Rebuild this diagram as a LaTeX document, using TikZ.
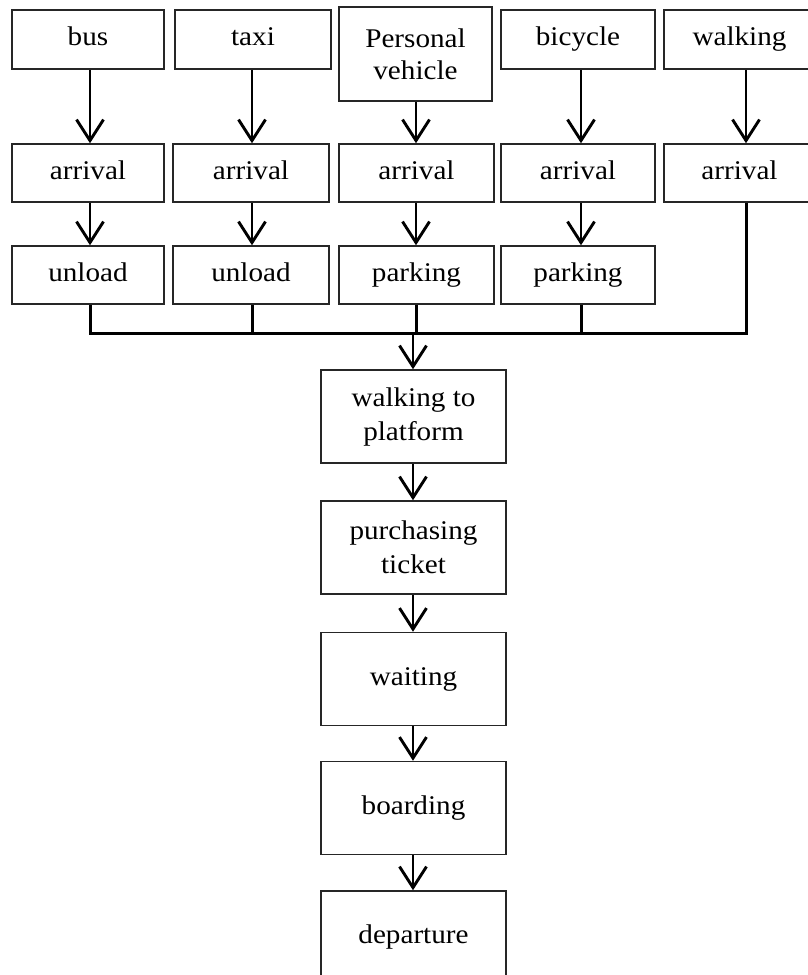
\documentclass[tikz,border=0pt]{standalone}
\usepackage{fontspec}
\setmainfont{Liberation Serif}[FakeStretch=1.08]
\usetikzlibrary{arrows.meta}
\begin{document}
\begin{tikzpicture}[x=1pt,y=-1pt,
  box/.style={draw=black!85, line width=1.5pt, rectangle, inner sep=0pt,
    align=center, font=\fontsize{27}{34}\selectfont},
  oneline/.style={text height=18pt, text depth=6pt},
  topbox/.style={box, oneline, minimum height=59pt},
  rowbox/.style={box, oneline, minimum height=58pt},
  midbox/.style={box, minimum width=185pt, minimum height=93pt},
  arr/.style={line width=2.9pt, -{Straight Barb[length=21pt,width=27pt,line width=2.9pt]}},
  link/.style={line width=3pt}]
\useasboundingbox (0,0) rectangle (808,975);

% column axes for the connectors
\coordinate (c1) at (90,0);
\coordinate (c2) at (252,0);
\coordinate (c3) at (416,0);
\coordinate (c4) at (581,0);
\coordinate (c5) at (746,0);
\coordinate (c6) at (413,0);

% transport modes
\node[topbox, minimum width=152pt] (bus)  at (88,39.5)   {bus};
\node[topbox, minimum width=156pt] (taxi) at (253,39.5)  {taxi};
\node[box, minimum width=153pt, minimum height=94pt,
      font=\fontsize{27}{32}\selectfont] (pv) at (415.5,54) {Personal\\vehicle};
\node[topbox, minimum width=154pt] (bike) at (578,39.5)  {bicycle};
\node[topbox, minimum width=151pt] (walk) at (739.5,39.5) {walking};

% arrival
\node[rowbox, minimum width=152pt] (a1) at (88,173)    {arrival};
\node[rowbox, minimum width=156pt] (a2) at (251,173)   {arrival};
\node[rowbox, minimum width=155pt] (a3) at (416.5,173) {arrival};
\node[rowbox, minimum width=154pt] (a4) at (578,173)   {arrival};
\node[rowbox, minimum width=151pt] (a5) at (739.5,173) {arrival};

% unload / parking
\node[rowbox, minimum width=152pt] (u1) at (88,275)    {unload};
\node[rowbox, minimum width=156pt] (u2) at (251,275)   {unload};
\node[rowbox, minimum width=155pt] (u3) at (416.5,275) {parking};
\node[rowbox, minimum width=154pt] (u4) at (578,275)   {parking};

% common sequence
\node[midbox] (wtp) at (413.5,416.5) {walking to\\platform};
\node[midbox] (tick) at (413.5,547.5) {purchasing\\ticket};
\node[midbox, oneline] (wait) at (413.5,679)   {waiting};
\node[midbox, oneline] (board) at (413.5,808)  {boarding};
\node[midbox, oneline] (dep) at (413.5,937.5)  {departure};

% collecting bus line
\coordinate (j1) at (90,333);
\coordinate (j5) at (746,333);
\coordinate (jm) at (413,333);

% mode -> arrival
\draw[arr] (bus.south -| c1)  -- (a1.north -| c1);
\draw[arr] (taxi.south -| c2) -- (a2.north -| c2);
\draw[arr] (pv.south -| c3)   -- (a3.north -| c3);
\draw[arr] (bike.south -| c4) -- (a4.north -| c4);
\draw[arr] (walk.south -| c5) -- (a5.north -| c5);

% arrival -> unload / parking
\draw[arr] (a1.south -| c1) -- (u1.north -| c1);
\draw[arr] (a2.south -| c2) -- (u2.north -| c2);
\draw[arr] (a3.south -| c3) -- (u3.north -| c3);
\draw[arr] (a4.south -| c4) -- (u4.north -| c4);

% merge into one line
\draw[link] (u1.south -| c1) -- (j1);
\draw[link] (u2.south -| c2) -- (j1 -| c2);
\draw[link] (u3.south -| c3) -- (j1 -| c3);
\draw[link] (u4.south -| c4) -- (j1 -| c4);
\draw[link] (a5.south -| c5) -- (j5);
\draw[link, line cap=rect] (j1) -- (j5);
\draw[arr] (jm) -- (wtp.north -| c6);

% sequence arrows
\draw[arr] (wtp.south -| c6)   -- (tick.north -| c6);
\draw[arr] (tick.south -| c6)  -- (wait.north -| c6);
\draw[arr] (wait.south -| c6)  -- (board.north -| c6);
\draw[arr] (board.south -| c6) -- (dep.north -| c6);
\end{tikzpicture}
\end{document}
